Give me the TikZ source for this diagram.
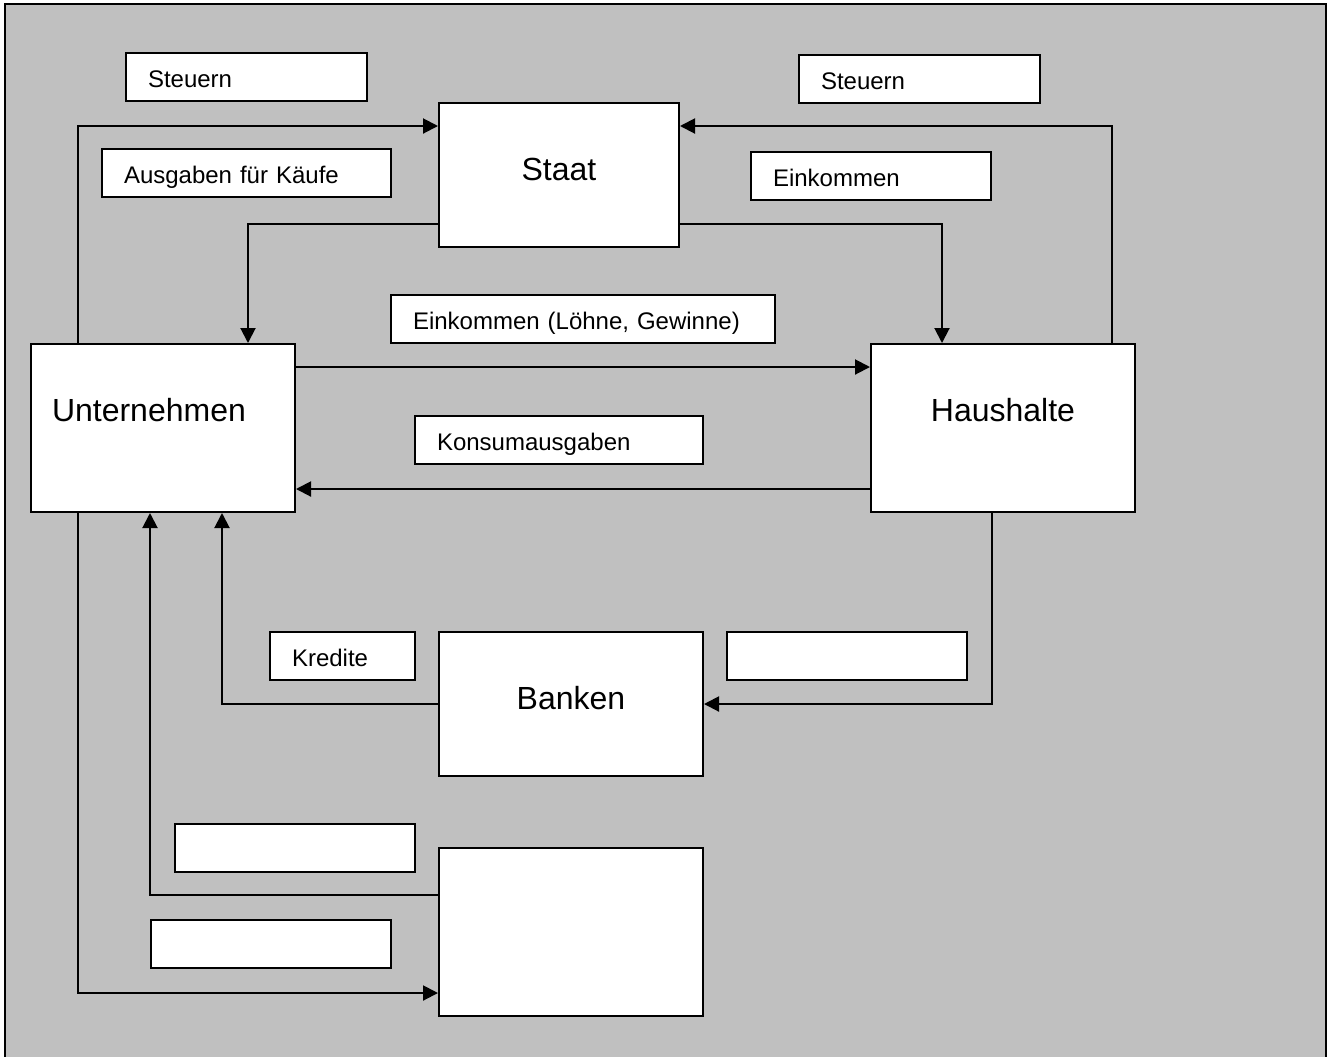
\documentclass[tikz,border=0pt]{standalone}
\usepackage{fontspec}
\setmainfont{Liberation Sans}
\usepackage{tikz}
\usetikzlibrary{arrows.meta}
\definecolor{bggray}{RGB}{192,192,192}

\begin{document}
\begin{tikzpicture}[x=0.5pt, y=-0.5pt,
      label box/.style={draw, fill=white, line width=1pt, anchor=north west,
        inner xsep=11pt, inner ysep=0pt, text height=17pt, text depth=7pt,
        text width=#1, align=left, font=\fontsize{12}{14}\selectfont},
      sector/.style={draw, fill=white, line width=1pt, anchor=north west,
        inner sep=0pt, text height=38.5pt, align=center,
        font=\fontsize{16}{19}\selectfont},
      flow/.style={line width=1pt, -{Triangle[length=7.5pt,width=7.5pt]}}]
      \useasboundingbox (1,1) rectangle (1334,1057);
      \draw[line width=1pt, fill=bggray] (6,1080) -- (6,5) -- (1327,5) -- (1327,1080);

      \node[sector, text width=120pt, text depth=33.5pt] (staat) at (439,103) {Staat};
      \node[sector, text width=111pt, text depth=45.5pt, inner xsep=10.5pt, align=left] (untern) at (31,344) {Unternehmen};
      \node[sector, text width=132pt, text depth=45.5pt] (haus) at (871,344) {Haushalte};
      \node[sector, text width=132pt, text depth=33.5pt] (bank) at (439,632) {Banken};
      \node[sector, text width=132pt, text depth=45.5pt] (rest) at (439,848) {};

      \node[label box=98.5pt] (steuernL) at (126,53) {Steuern};
      \node[label box=122.5pt] (ausgaben) at (102,149) {Ausgaben für Käufe};
      \node[label box=98.5pt] (steuernR) at (799,55) {Steuern};
      \node[label box=98pt] (einkommen) at (751,152) {Einkommen};
      \node[label box=170pt] (loehne) at (391,295) {Einkommen (Löhne, Gewinne)};
      \node[label box=122pt] (konsum) at (415,416) {Konsumausgaben};
      \node[label box=50.5pt] (kredite) at (270,632) {Kredite};
      \node[label box=98pt] (leerBank) at (727,632) {};
      \node[label box=98pt] (leerA) at (175,824) {};
      \node[label box=98pt] (leerB) at (151,920) {};

      \draw[flow] ([xshift=24pt]untern.north west) |- ([yshift=-12pt]staat.north west);
      \draw[flow] ([yshift=12pt]staat.south west) -| ([xshift=-24pt]untern.north east);
      \draw[flow] ([xshift=-12pt]haus.north east) |- ([yshift=-12pt]staat.north east);
      \draw[flow] ([yshift=12pt]staat.south east) -| ([xshift=36pt]haus.north west);
      \draw[flow] ([yshift=-12pt]untern.north east) -- ([yshift=-12pt]haus.north west);
      \draw[flow] ([yshift=12pt]haus.south west) -- ([yshift=12pt]untern.south east);
      \draw[flow] ([xshift=-72pt]haus.south east) |- (bank.east);
      \draw[flow] (bank.west) -| ([xshift=96pt]untern.south west);
      \draw[flow] ([yshift=-24pt]rest.north west) -| ([xshift=60pt]untern.south west);
      \draw[flow] ([xshift=24pt]untern.south west) |- ([yshift=12pt]rest.south west);
\end{tikzpicture}
\end{document}
